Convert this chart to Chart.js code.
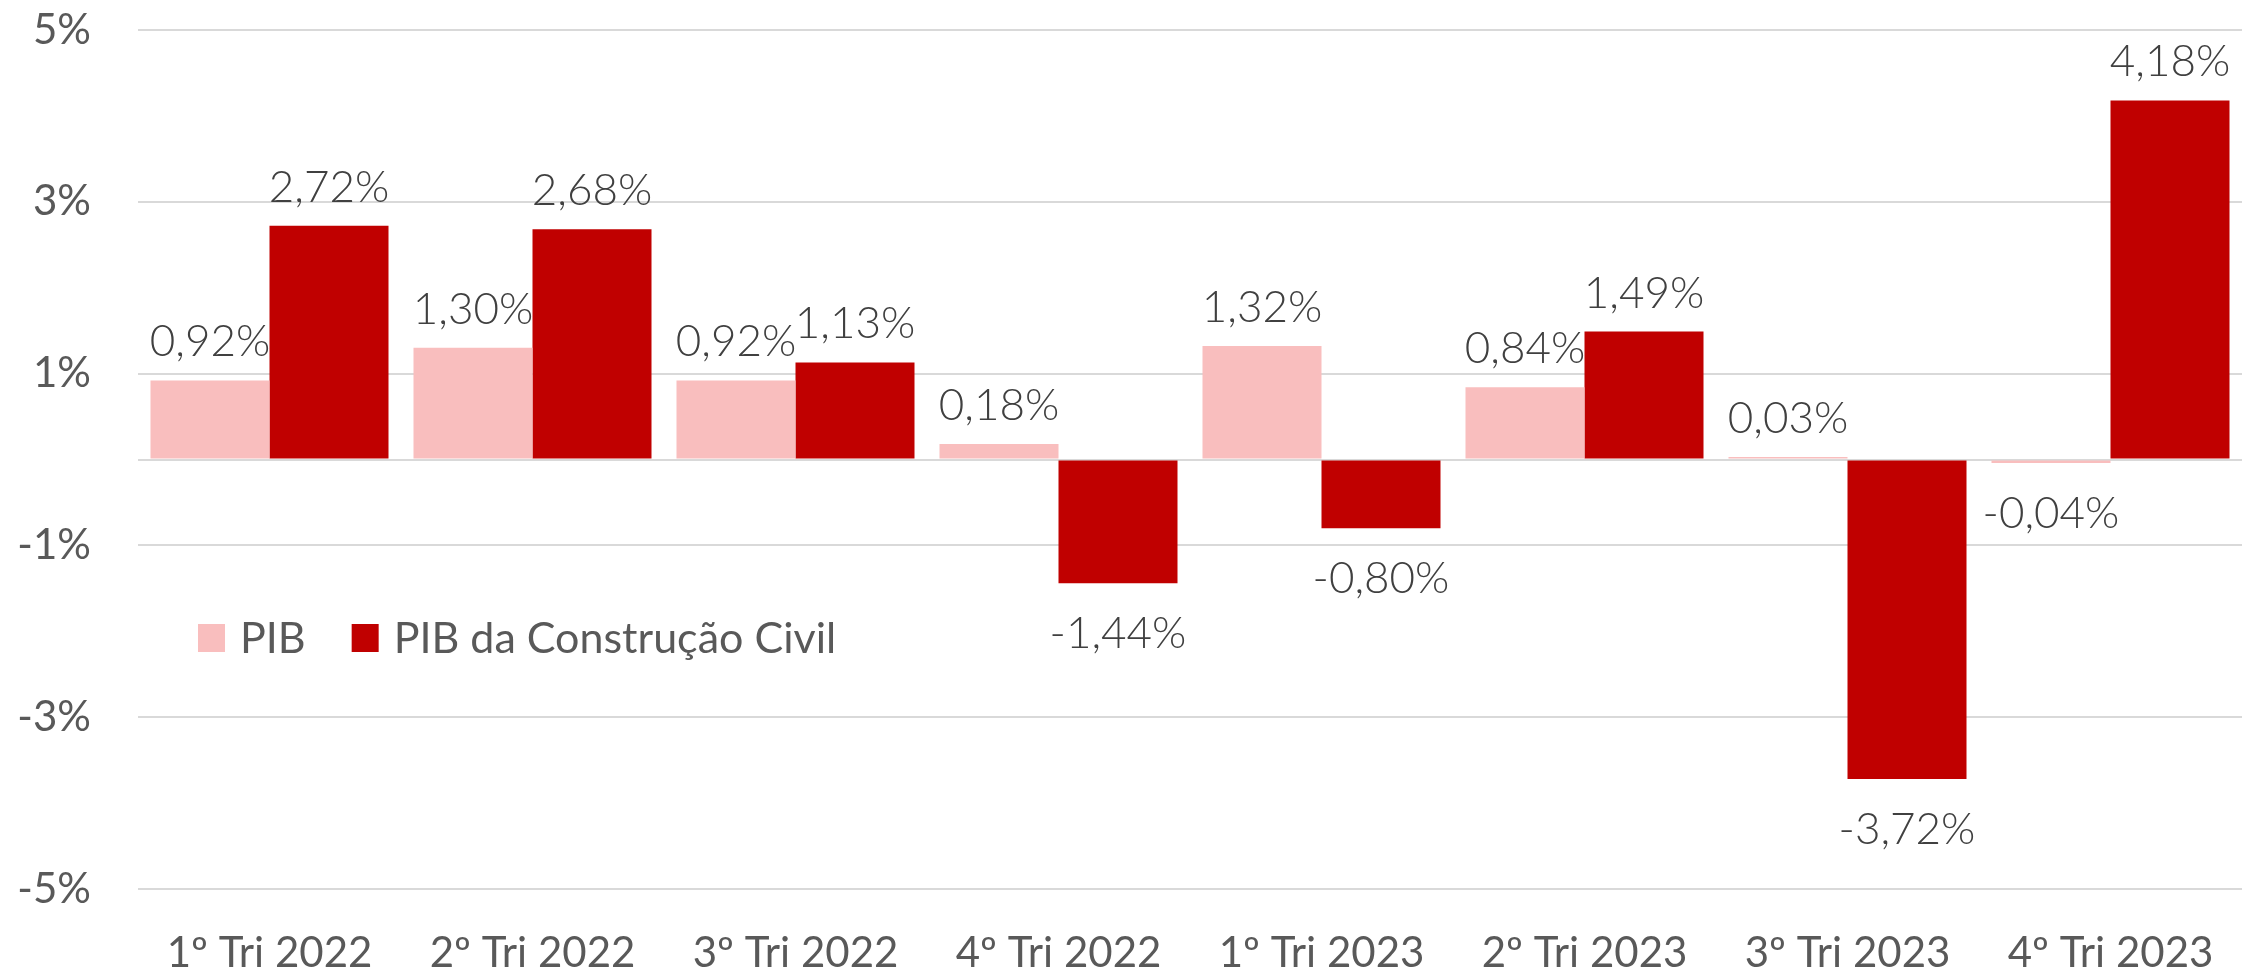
<!DOCTYPE html>
<html>
<head>
<meta charset="utf-8">
<script src="https://cdn.jsdelivr.net/npm/chart.js@4"></script>
<style>
html,body{margin:0;padding:0;background:#fff;}
#wrap{width:2257px;height:973px;}
</style>
</head>
<body>
<div id="wrap"><canvas id="c" width="2257" height="973"></canvas></div>
<script>
const categories = ['1º Tri 2022','2º Tri 2022','3º Tri 2022','4º Tri 2022','1º Tri 2023','2º Tri 2023','3º Tri 2023','4º Tri 2023'];
const pib = [0.92, 1.30, 0.92, 0.18, 1.32, 0.84, 0.03, -0.04];
const pibConstrucao = [2.72, 2.68, 1.13, -1.44, -0.80, 1.49, -3.72, 4.18];
const seriesNames = ['PIB', 'PIB da Construção Civil'];
const yTicks = [-5, -3, -1, 0, 1, 3, 5];

const FONT = 'Lato, "Noto Sans", sans-serif';
const fmt = v => v.toFixed(2).replace('.', ',') + '%';

const dataLabels = {
  id: 'dataLabels',
  afterDatasetsDraw(chart) {
    const ctx = chart.ctx;
    ctx.save();
    ctx.font = '300 44px ' + FONT;
    ctx.fillStyle = '#404040';
    ctx.textAlign = 'center';
    ctx.textBaseline = 'alphabetic';
    chart.data.datasets.forEach((ds, di) => {
      const meta = chart.getDatasetMeta(di);
      meta.data.forEach((el, i) => {
        const v = ds.data[i];
        const y = v >= 0 ? el.y - 24 : el.y + 65;
        ctx.fillText(fmt(v), el.x, y);
      });
    });
    ctx.restore();
  }
};

const innerLegend = {
  id: 'innerLegend',
  afterDraw(chart) {
    const ctx = chart.ctx;
    ctx.save();
    ctx.font = '43px ' + FONT;
    ctx.textBaseline = 'alphabetic';
    let x = 198;
    const top = 624, h = 28, w = 27, base = 653;
    chart.data.datasets.forEach(ds => {
      ctx.fillStyle = ds.backgroundColor;
      ctx.fillRect(x, top, w, h);
      x += w + 15;
      ctx.fillStyle = '#595959';
      ctx.fillText(ds.label, x, base);
      x += ctx.measureText(ds.label).width + 46;
    });
    ctx.restore();
  }
};

new Chart(document.getElementById('c'), {
  type: 'bar',
  data: {
    labels: categories,
    datasets: [
      { label: seriesNames[0], data: pib, backgroundColor: '#F9BEBE' },
      { label: seriesNames[1], data: pibConstrucao, backgroundColor: '#C00000' }
    ]
  },
  options: {
    responsive: false,
    animation: false,
    devicePixelRatio: 1,
    layout: { padding: { top: 30, right: 15, left: 0, bottom: 0 } },
    datasets: { bar: { categoryPercentage: 0.905, barPercentage: 1.0 } },
    plugins: { legend: { display: false }, tooltip: { enabled: false } },
    scales: {
      x: {
        grid: { display: false, drawTicks: false },
        border: { display: false },
        ticks: { color: '#595959', font: { family: FONT, size: 42 }, padding: 39, maxRotation: 0, autoSkip: false },
        afterFit: s => { s.height = 84; }
      },
      y: {
        min: -5, max: 5,
        afterBuildTicks: s => { s.ticks = yTicks.map(v => ({ value: v })); },
        grid: { color: '#D9D9D9', lineWidth: 2, drawTicks: true, tickLength: 47, tickColor: 'rgba(0,0,0,0)' },
        border: { display: false },
        ticks: { color: '#595959', font: { family: FONT, size: 42 }, padding: 0,
          callback: v => v === 0 ? '' : v + '%' },
        afterFit: s => { s.width = 138; }
      }
    }
  },
  plugins: [dataLabels, innerLegend]
});
</script>
</body>
</html>
